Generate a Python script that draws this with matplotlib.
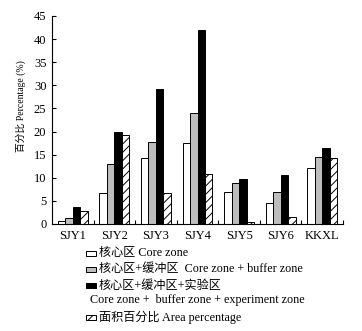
import numpy as np
import matplotlib
matplotlib.use('Agg')
import matplotlib.pyplot as plt
from matplotlib.patches import Rectangle

plt.rcParams['font.family'] = ['Liberation Serif', 'Noto Sans CJK SC']
plt.rcParams['hatch.linewidth'] = 0.7

sites = ['SJY1', 'SJY2', 'SJY3', 'SJY4', 'SJY5', 'SJY6', 'KKXL']
core = [0.7, 6.7, 14.3, 17.5, 6.9, 4.6, 12.1]
core_buffer = [1.2, 13.0, 17.7, 24.0, 8.9, 7.0, 14.6]
core_buffer_exp = [3.6, 19.9, 29.1, 42.0, 9.7, 10.5, 16.4]
area_pct = [2.8, 19.3, 6.8, 10.8, 0.5, 1.6, 14.3]

fig = plt.figure(figsize=(3.62, 3.31), dpi=100)
ax = fig.add_axes([0.1436, 0.3233, 0.804, 0.6284])

x = np.arange(len(sites))
w = 0.18
styles = [
    dict(facecolor='white', hatch=None),
    dict(facecolor='#bdbdbd', hatch=None),
    dict(facecolor='black', hatch=None),
    dict(facecolor='white', hatch='////'),
]
series = [core, core_buffer, core_buffer_exp, area_pct]
for i, (vals, st) in enumerate(zip(series, styles)):
    ax.bar(x + (i - 1.5) * w, vals, width=w, facecolor=st['facecolor'],
           edgecolor='black', linewidth=0.7, hatch=st['hatch'])

ax.set_xlim(-0.5, len(sites) - 0.5)
ax.set_ylim(0, 45)
ax.set_yticks(np.arange(0, 46, 5))
ax.set_xticks(x)
ax.set_xticklabels(sites)
ax.set_xticks(np.arange(0.5, len(sites), 1), minor=True)
ax.tick_params(axis='x', which='major', length=0, labelsize=9, pad=4)
ax.tick_params(axis='x', which='minor', direction='in', length=3, width=0.8)
ax.tick_params(axis='y', direction='in', length=3, width=0.8, labelsize=9, pad=4)
for s in ['top', 'right']:
    ax.spines[s].set_visible(False)
for s in ['left', 'bottom']:
    ax.spines[s].set_linewidth(0.8)
ax.set_ylabel('百分比 Percentage (%)', fontsize=7)
ax.yaxis.set_label_coords(-0.088, 0.567)

# legend drawn by hand below the axes
W, H = 362, 331
fs = 8.7
rows = [
    (253, '核心区 Core zone', 0),
    (269, '核心区+缓冲区  Core zone + buffer zone', 1),
    (285.5, '核心区+缓冲区+实验区', 2),
    (317, '面积百分比 Area percentage', 3),
]
for yp, label, k in rows:
    st = styles[k]
    fig.patches.append(Rectangle((86 / W, 1 - (yp + 2.5) / H), 10 / W, 5 / H,
                                 transform=fig.transFigure, facecolor=st['facecolor'],
                                 edgecolor='black', linewidth=0.7, hatch=st['hatch']))
    fig.text(99 / W, 1 - yp / H, label, fontsize=fs, va='center', ha='left')
fig.text(90 / W, 1 - 300.5 / H, 'Core zone +  buffer zone + experiment zone',
         fontsize=fs, va='center', ha='left')

fig.savefig('out.png', dpi=100)
